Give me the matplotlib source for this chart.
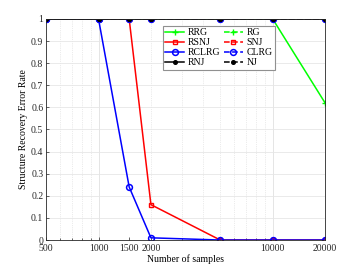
import numpy as np
import matplotlib.pyplot as plt
from matplotlib.ticker import FixedLocator, NullFormatter

plt.rcParams['font.family'] = ['Liberation Serif', 'DejaVu Serif']
plt.rcParams['font.size'] = 7

# данные
samples = [500, 1000, 1500, 2000, 5000, 10000, 20000]
xtick_labels = ['500', '1000', '1500', '2000', '10000', '20000']
xtick_vals = [500, 1000, 1500, 2000, 10000, 20000]

rrg = [1, 1, 1, 1, 1, 1, 0.62]
rg = [1, 1, 1, 1, 1, 1, 1]
rsnj = [1, 1, 1, 0.16, 0, 0, 0]
snj = [1, 1, 1, 1, 1, 1, 1]
rclrg = [1, 1, 0.24, 0.01, 0, 0, 0]
clrg = [1, 1, 1, 1, 1, 1, 1]
rnj = [1, 1, 1, 1, 1, 1, 1]
nj = [1, 1, 1, 1, 1, 1, 1]

fig = plt.figure(figsize=(3.6, 2.7), dpi=100)
ax = fig.add_axes([0.128, 0.111, 0.775, 0.819])

lw = 1.1
h = {}
h['RRG'], = ax.plot(samples, rrg, '-', color='#00ff00', marker='+', ms=5, lw=lw, label='RRG')
h['RG'], = ax.plot(samples, rg, '--', color='#00ff00', marker='+', ms=5, lw=lw, label='RG')
h['RSNJ'], = ax.plot(samples, rsnj, '-', color='red', marker='s', ms=3, mfc='none', mew=1.0, lw=lw, label='RSNJ')
h['SNJ'], = ax.plot(samples, snj, '--', color='red', marker='s', ms=3, mfc='none', mew=1.0, lw=lw, label='SNJ')
h['RCLRG'], = ax.plot(samples, rclrg, '-', color='blue', marker='o', ms=4.2, mfc='none', mew=1.1, lw=lw, label='RCLRG')
h['CLRG'], = ax.plot(samples, clrg, '--', color='blue', marker='o', ms=4.2, mfc='none', mew=1.1, lw=lw, label='CLRG')
h['RNJ'], = ax.plot(samples, rnj, '-', color='black', marker='o', ms=2.6, lw=lw, label='RNJ')
h['NJ'], = ax.plot(samples, nj, '--', color='black', marker='o', ms=2.6, lw=lw, label='NJ')

ax.set_xscale('log')
ax.set_xlim(500, 20000)
ax.set_ylim(0, 1)
ax.xaxis.set_major_locator(FixedLocator(xtick_vals))
ax.set_xticklabels(xtick_labels)
ax.xaxis.set_minor_locator(FixedLocator([600, 700, 800, 900, 3000, 4000, 5000, 6000, 7000, 8000, 9000]))
ax.xaxis.set_minor_formatter(NullFormatter())
ax.set_yticks(np.arange(0, 1.01, 0.1))
ax.set_yticklabels(['0', '0.1', '0.2', '0.3', '0.4', '0.5', '0.6', '0.7', '0.8', '0.9', '1'])

# сетка как в MATLAB
for v in [1000, 10000]:
    ax.axvline(v, color='#e0e0e0', lw=0.6, zorder=0)
for v in [600, 700, 800, 900, 2000, 3000, 4000, 5000, 6000, 7000, 8000, 9000]:
    ax.axvline(v, color='#d8d8d8', lw=0.5, ls=':', zorder=0)
for v in np.arange(0.1, 1.0, 0.1):
    ax.axhline(v, color='#e6e6e6', lw=0.6, zorder=0)

ax.tick_params(which='both', direction='in', colors='#262626', labelcolor='#262626', length=2.5, width=0.5)
ax.tick_params(axis='x', pad=3)
ax.tick_params(axis='y', pad=2)
ax.tick_params(which='minor', length=1.5)
for s in ax.spines.values():
    s.set_color('#262626')
    s.set_linewidth(0.6)

ax.set_xlabel('Number of samples', labelpad=1)
ax.set_ylabel('Structure Recovery Error Rate', labelpad=2)

order = ['RRG', 'RSNJ', 'RCLRG', 'RNJ', 'RG', 'SNJ', 'CLRG', 'NJ']
leg = ax.legend([h[k] for k in order], order, ncol=2, loc='upper left',
                bbox_to_anchor=(0.419, 0.968), fancybox=False,
                edgecolor='#909090', framealpha=1, borderpad=0.25, labelspacing=0.1,
                handlelength=1.9, handletextpad=0.4, columnspacing=0.4, fontsize=7,
                borderaxespad=0)
leg.get_frame().set_linewidth(0.8)

plt.savefig('out.png', dpi=100)
